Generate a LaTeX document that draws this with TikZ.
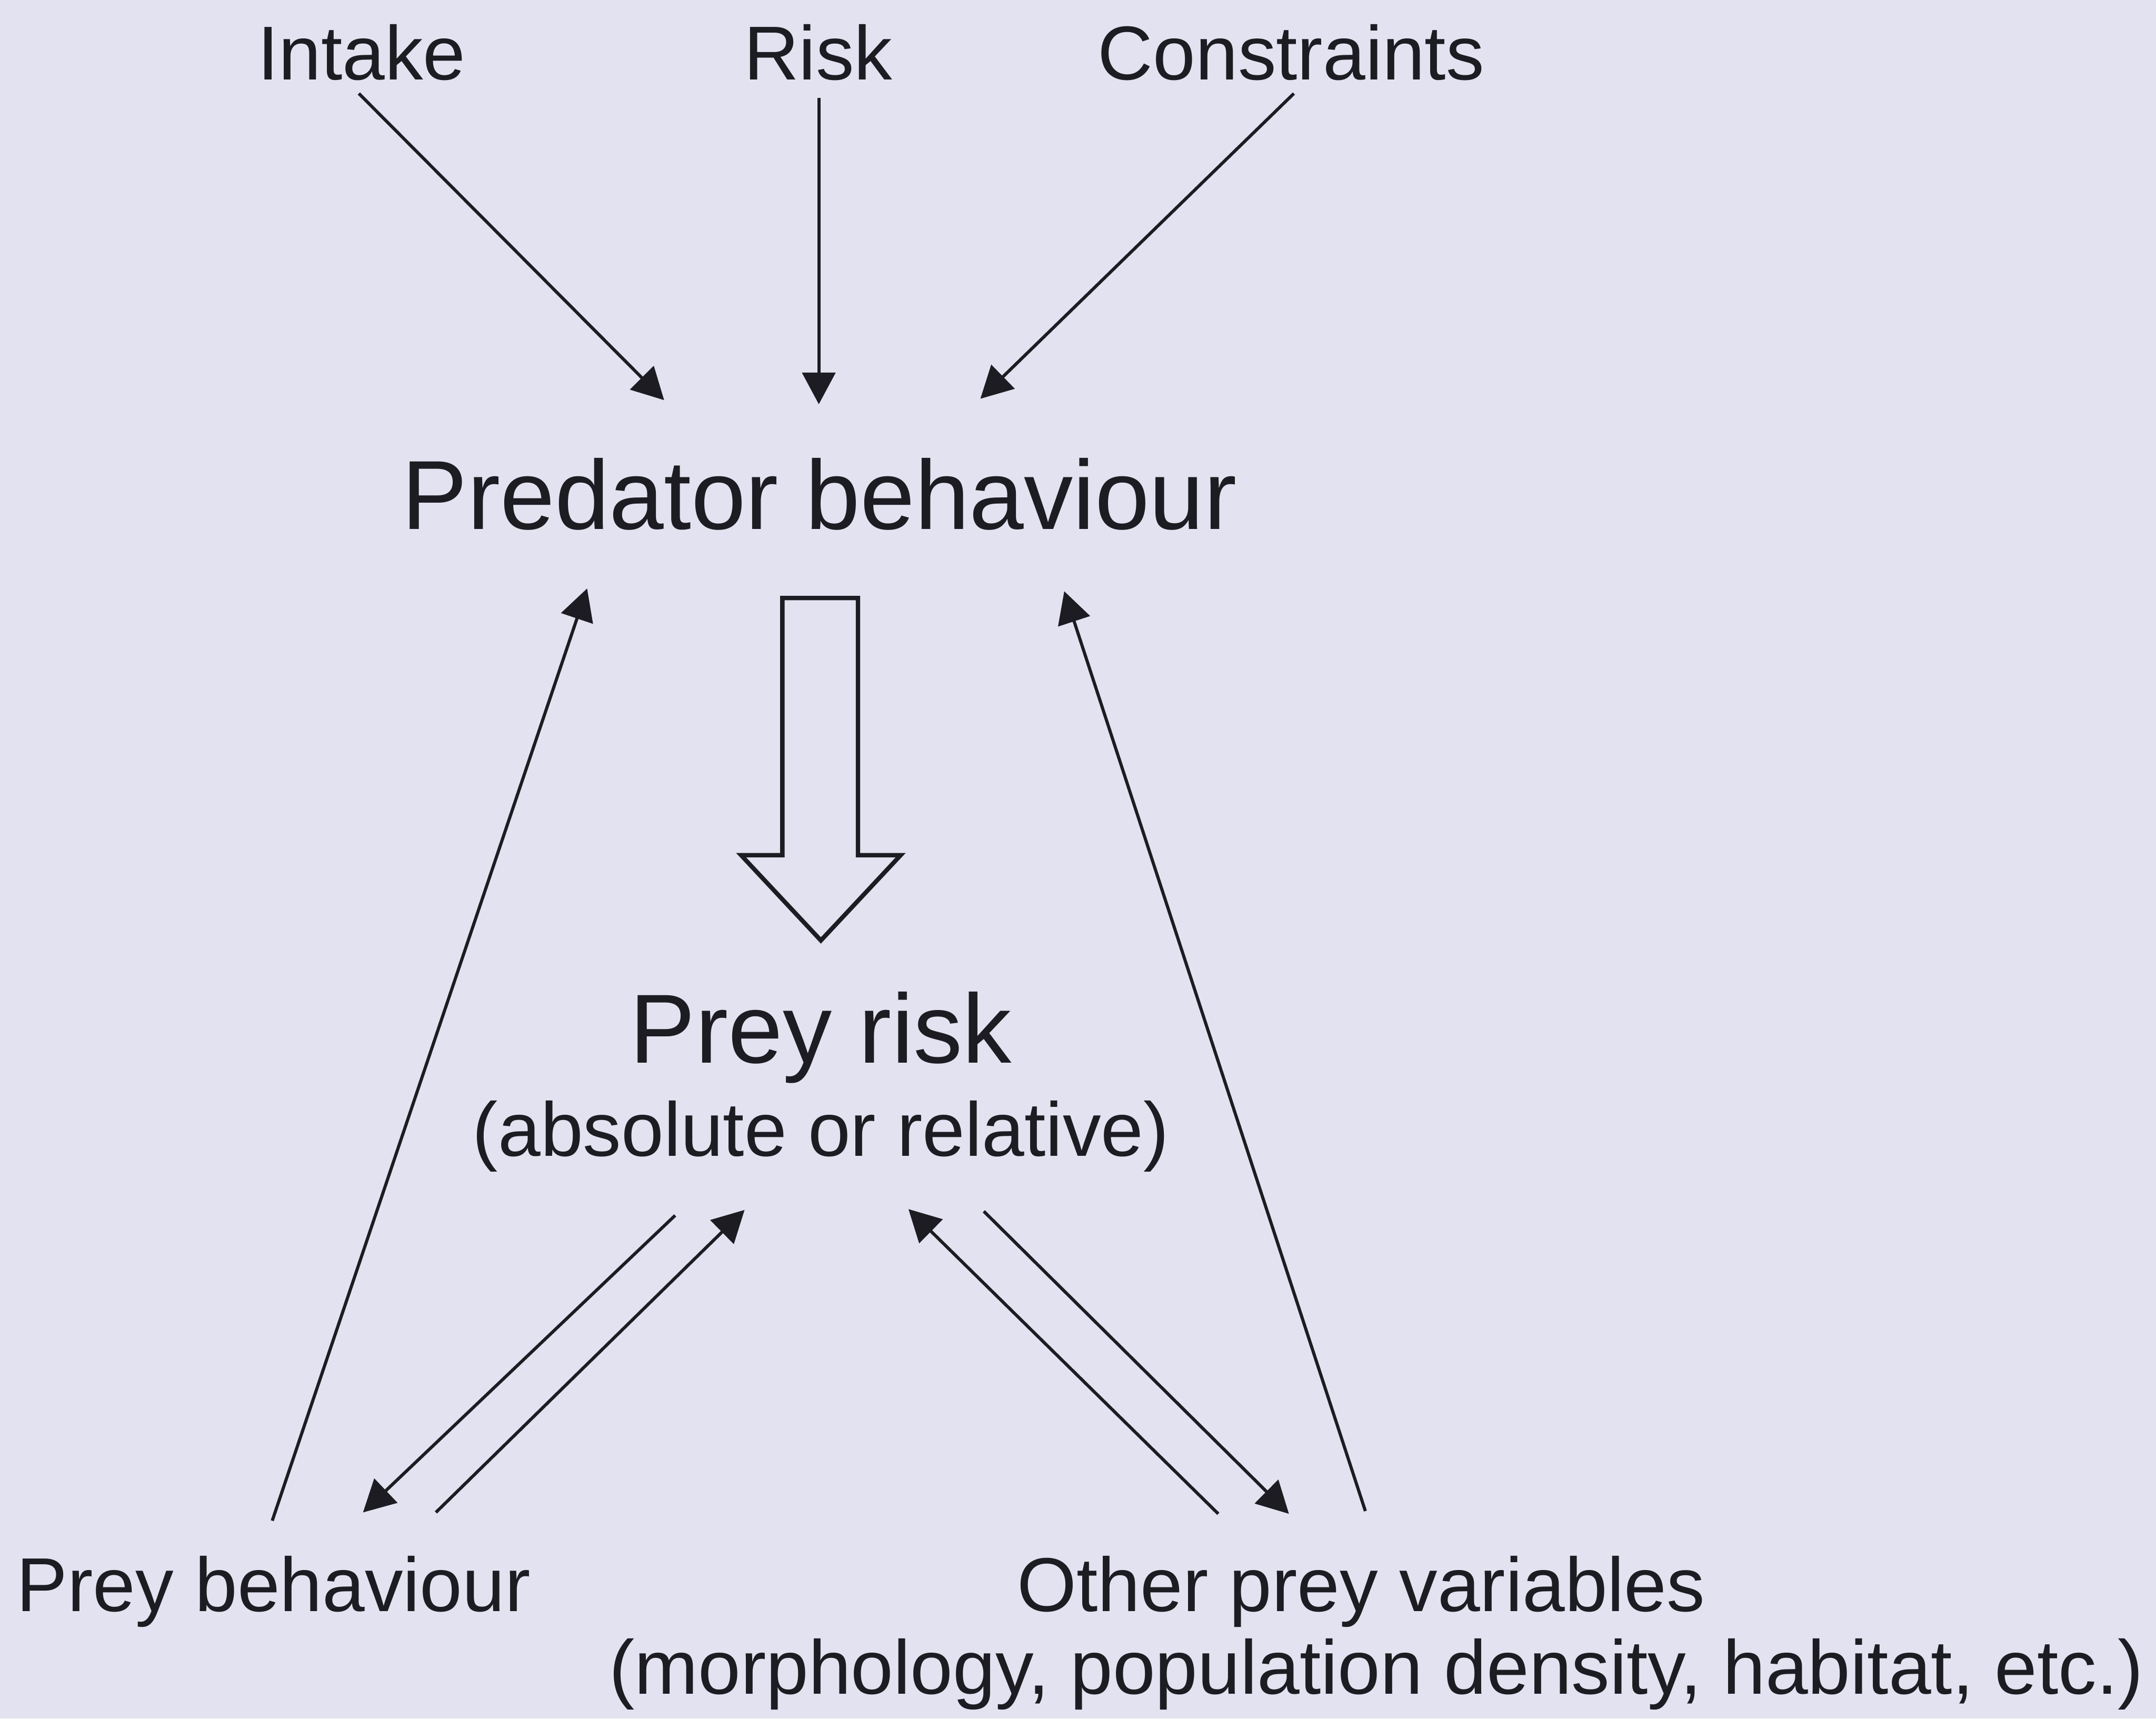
\documentclass[tikz,border=0pt]{standalone}
\usepackage{fontspec}
\setmainfont{Liberation Sans}
\usetikzlibrary{arrows.meta}
\definecolor{PaperLilac}{HTML}{E2E2F0}
\definecolor{InkDark}{HTML}{1C1C22}

\begin{document}
\begin{tikzpicture}[x=0.01cm, y=-0.01cm,
  every node/.style={text=InkDark, inner sep=0pt, anchor=base},
  bigtext/.style={font=\fontsize{20.3}{24}\selectfont},
  smalltext/.style={font=\fontsize{15.8}{18}\selectfont},
  link/.style={draw=InkDark, line width=0.65pt, -{Triangle[length=2.3mm, width=2.4mm]}}]
  % background
  \fill[PaperLilac] (0,0) rectangle (1568,1250);
  % labels
  \node[smalltext] (intake) at (263,58) {Intake};
  \node[smalltext] (risk) at (595,58) {Risk};
  \node[smalltext] (constraints) at (939,58) {Constraints};
  \node[bigtext] (predator) at (596,385) {Predator behaviour};
  \node[bigtext] (preyrisk) at (597,773) {Prey risk};
  \node[smalltext] (preyriskkind) at (597,841) {(absolute or relative)};
  \node[smalltext] (preybeh) at (199,1172) {Prey behaviour};
  \node[smalltext] (otherprey) at (990,1172) {Other prey variables};
  \node[smalltext] (otherpreykind) at (1001,1232) {(morphology, population density, habitat, etc.)};
  % arrow ends
  \coordinate (intakeS) at (261,68);   \coordinate (predNW) at (483,291);
  \coordinate (riskS) at (595.5,71);   \coordinate (predN) at (595.5,294);
  \coordinate (constrS) at (941,68);   \coordinate (predNE) at (713,290);
  \coordinate (preybehN) at (198,1106); \coordinate (predSW) at (427,428);
  \coordinate (otherN) at (993,1099);  \coordinate (predSE) at (774,430);
  \coordinate (riskSWa) at (491,884);  \coordinate (preybehNa) at (264,1100);
  \coordinate (preybehNb) at (317,1100); \coordinate (riskSWb) at (541.5,880);
  \coordinate (riskSEa) at (715.5,881); \coordinate (otherNa) at (937.4,1101);
  \coordinate (otherNb) at (886,1101); \coordinate (riskSEb) at (660.7,879.4);
  % connectors
  \draw[link] (intakeS) -- (predNW);
  \draw[link] (riskS) -- (predN);
  \draw[link] (constrS) -- (predNE);
  \draw[link] (preybehN) -- (predSW);
  \draw[link] (otherN) -- (predSE);
  \draw[link] (riskSWa) -- (preybehNa);
  \draw[link] (preybehNb) -- (riskSWb);
  \draw[link] (riskSEa) -- (otherNa);
  \draw[link] (otherNb) -- (riskSEb);
  % hollow block arrow
  \draw[InkDark, line width=0.9pt, line join=miter]
    (569,435) -- (624,435) -- (624,622) -- (655,622) -- (597,684)
    -- (539,622) -- (569,622) -- cycle;
\end{tikzpicture}
\end{document}
